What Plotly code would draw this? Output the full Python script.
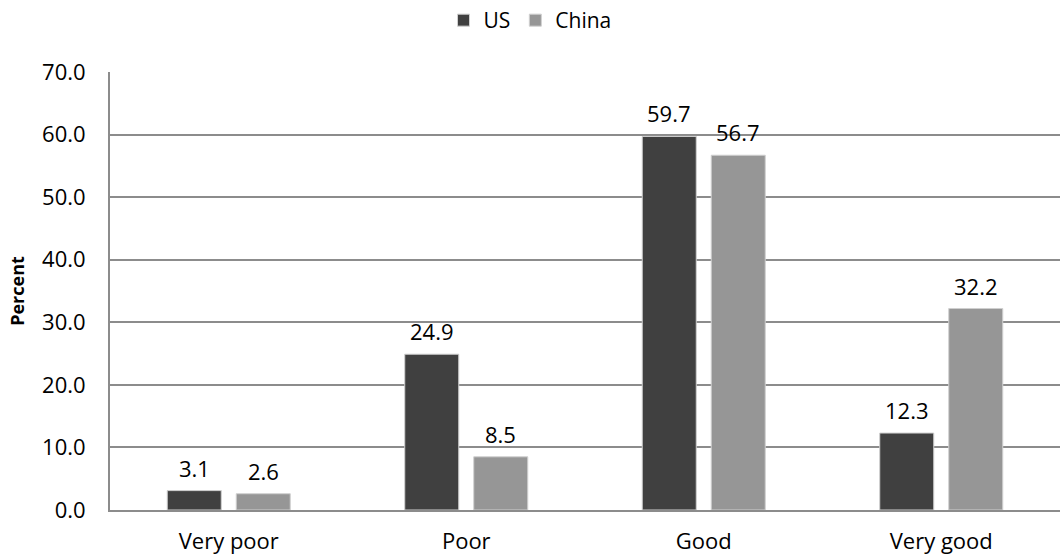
import plotly.graph_objects as go

categories = ["Very poor", "Poor", "Good", "Very good"]
us_values = [3.1, 24.9, 59.7, 12.3]
china_values = [2.6, 8.5, 56.7, 32.2]
y_ticks = [0, 10, 20, 30, 40, 50, 60, 70]
y_tick_labels = ["0.0", "10.0", "20.0", "30.0", "40.0", "50.0", "60.0", "70.0"]

FONT = "Open Sans"
US_COLOR = "#404040"
CN_COLOR = "#969696"

fig = go.Figure()
fig.add_trace(go.Bar(name="US", x=categories, y=us_values, marker_color=US_COLOR,
                     marker_line=dict(color="#d0d0d0", width=1)))
fig.add_trace(go.Bar(name="China", x=categories, y=china_values, marker_color=CN_COLOR,
                     marker_line=dict(color="#d0d0d0", width=1)))

for series, shift in ((us_values, -34.5), (china_values, 34.5)):
    for cat, v in zip(categories, series):
        fig.add_annotation(x=cat, y=v, xref="x", yref="y", text=f"{v:.1f}",
                           showarrow=False, yanchor="bottom", xshift=shift, yshift=6,
                           font=dict(family=FONT, size=22, color="#000"))

fig.update_layout(
    width=1060, height=558,
    margin=dict(l=110, r=0, t=72, b=48),
    paper_bgcolor="white", plot_bgcolor="white",
    barmode="group", bargap=0.419, bargroupgap=0.217,
    font=dict(family=FONT, size=22, color="#000"),
    legend=dict(orientation="h", x=0.5, xanchor="center", xref="container",
                y=1.0, yanchor="top", yref="container",
                font=dict(family=FONT, size=21), itemwidth=30, traceorder="normal",
                tracegroupgap=0),
    showlegend=True,
)
fig.update_yaxes(range=[0, 70], tickvals=y_ticks, ticktext=y_tick_labels,
                 showgrid=True, gridcolor="#8c8c8c", gridwidth=1.5,
                 showline=True, linecolor="#8c8c8c", linewidth=2,
                 ticks="", ticklabelstandoff=18, zeroline=False,
                 title=dict(text="<b>Percent</b>", font=dict(family=FONT, size=18), standoff=13))
fig.update_xaxes(showline=True, linecolor="#8c8c8c", linewidth=2, ticks="",
                 ticklabelstandoff=11, showgrid=False)

fig.write_html("out.html")
